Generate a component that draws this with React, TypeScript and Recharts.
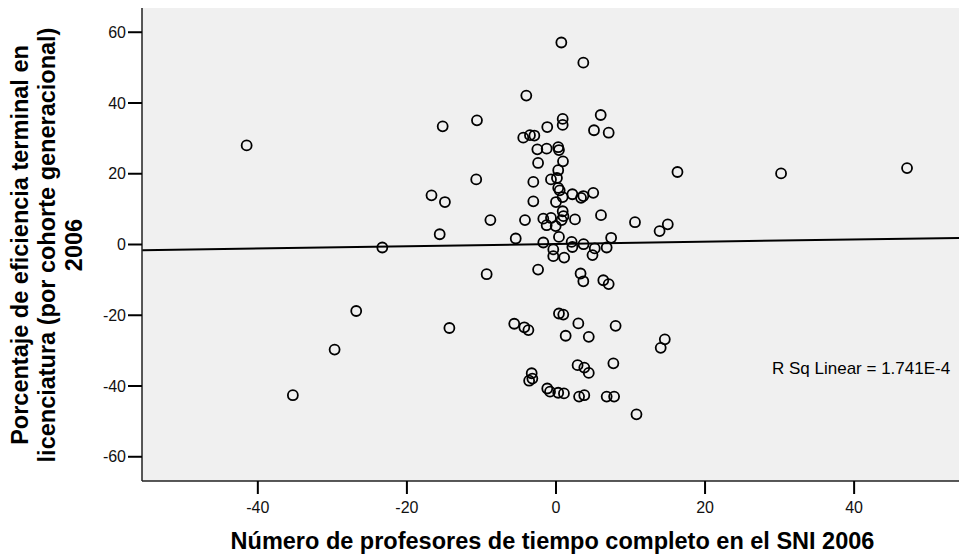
import { ScatterChart, Scatter, XAxis, YAxis, CartesianGrid, ReferenceLine, Customized } from 'recharts'

// Número de profesores de tiempo completo en el SNI 2006 (x) vs eficiencia terminal (y)
const profesores = [
  -41.5, -35.3, -29.7, -26.8, -23.3, -16.7, -14.9, -15.2, -15.6, -14.3, -10.6, -10.7, -8.8, -9.3, -5.6, -5.4,
  16.3, 30.2, 47.1, 10.6, 13.9, 15.0, 14.05, 14.6, 10.8,
  0.72, 3.67, -3.98, 6.0, 0.9, 0.9, -1.17, 5.1, 7.07, -4.39, -3.49, -2.9,
  -2.5, -1.25, 0.3, 0.4, -2.4, 0.94, 0.3, 0.13, -0.67, -3.04, 0.3, 0.5, 0.9, 0.0, -3.04, 2.2, 3.36, 3.67, 5.0,
  0.9, 1.0, 0.76, -1.7, -0.67, -1.25, -0.04, 2.55, -4.16, 6.04, 0.4, -1.7, 2.1, 2.2, 3.7, 7.4, 6.8, 5.2, 4.9,
  -0.36, -0.36, 1.1, -2.4, 3.3,
  3.67, 6.35, 7.07, 0.4, 0.98, 3.0, 8.0, -4.25, -3.7, 1.3, 4.4, 2.9, 3.8, 4.4, 7.7, -3.26, -3.17, -3.6,
  -1.17, -0.8, 0.3, 1.07, 3.1, 3.8, 6.8, 7.8,
]

const eficiencia = [
  28.0, -42.6, -29.7, -18.8, -0.85, 13.9, 12.0, 33.4, 2.9, -23.6, 35.1, 18.4, 6.9, -8.4, -22.4, 1.7,
  20.5, 20.1, 21.6, 6.3, 3.8, 5.7, -29.2, -26.8, -48.0,
  57.1, 51.4, 42.1, 36.6, 35.5, 33.8, 33.2, 32.3, 31.6, 30.2, 30.9, 30.8,
  26.9, 27.1, 27.5, 26.7, 23.05, 23.5, 21.0, 18.8, 18.4, 17.7, 16.0, 15.3, 13.4, 12.0, 12.2, 14.2, 13.2, 13.7, 14.6,
  9.4, 8.0, 6.9, 7.3, 7.5, 5.45, 5.2, 7.1, 6.9, 8.3, 2.15, 0.56, 0.73, -0.7, 0.08, 1.9, -0.85, -1.1, -3.0,
  -1.4, -3.3, -3.7, -7.1, -8.2,
  -10.4, -10.1, -11.2, -19.5, -19.8, -22.3, -23.0, -23.4, -24.2, -25.8, -26.1, -34.1, -34.8, -36.3, -33.6, -36.4, -37.9, -38.5,
  -40.7, -41.6, -41.9, -42.1, -43.0, -42.6, -43.0, -43.0,
]

const xTicks = [-40, -20, 0, 20, 40]
const yTicks = [-60, -40, -20, 0, 20, 40, 60]
const xDomain = [-55.54, 54.07]
const yDomain = [-66.85, 66.85]

// linear fit endpoints (R Sq Linear = 1.741E-4)
const fitLine = [
  { x: -55.54, y: -1.61 },
  { x: 54.07, y: 1.87 },
]

const points = profesores.map((x, i) => ({ x, y: eficiencia[i] }))

const FONT = 'Arial, "Liberation Sans", sans-serif'

const Ring = (props: any) => (
  <circle cx={props.cx} cy={props.cy} r={5} fill="none" stroke="#000" strokeWidth={1.8} />
)

const YTitle = () => {
  const lines = ['Porcentaje de eficiencia terminal en', 'licenciatura (por cohorte generacional)', '2006']
  const xs = [28, 55, 82]
  return (
    <g>
      {lines.map((t, i) => (
        <text
          key={i}
          x={xs[i]}
          y={245}
          transform={`rotate(-90, ${xs[i]}, 245)`}
          textAnchor="middle"
          fontFamily={FONT}
          fontWeight="bold"
          fontSize={23.5}
          fill="#000"
        >
          {t}
        </text>
      ))}
    </g>
  )
}

const Extras = () => (
  <g>
    <YTitle />
    <text x={552.5} y={549} textAnchor="middle" fontFamily={FONT} fontWeight="bold" fontSize={23.5} fill="#000">
      Número de profesores de tiempo completo en el SNI 2006
    </text>
    <text x={772} y={374} fontFamily={FONT} fontSize={17} fill="#000">
      R Sq Linear = 1.741E-4
    </text>
  </g>
)

export default function App() {
  return (
    <div style={{ position: 'absolute', left: 0, top: 0, width: 959, height: 558, background: '#fff' }}>
      <ScatterChart width={959} height={558} margin={{ top: 8, right: 0, bottom: 0, left: 0 }}>
        <CartesianGrid fill="#f0f0f0" horizontal={false} vertical={false} stroke="none" />
        <XAxis
          type="number"
          dataKey="x"
          domain={xDomain}
          ticks={xTicks}
          allowDataOverflow
          height={77}
          tickSize={13}
          tickMargin={8}
          axisLine={{ stroke: '#222', strokeWidth: 1.5 }}
          tickLine={{ stroke: '#000', strokeWidth: 2 }}
          tick={{ fill: '#111', fontSize: 16, fontFamily: FONT }}
        />
        <XAxis
          xAxisId="top"
          orientation="top"
          type="number"
          domain={xDomain}
          height={0}
          tick={false}
          tickLine={false}
          axisLine={{ stroke: '#777', strokeWidth: 1 }}
        />
        <YAxis
          type="number"
          dataKey="y"
          domain={yDomain}
          ticks={yTicks}
          allowDataOverflow
          width={142}
          tickSize={14}
          tickMargin={2}
          axisLine={{ stroke: '#222', strokeWidth: 1.5 }}
          tickLine={{ stroke: '#000', strokeWidth: 2 }}
          tick={{ fill: '#111', fontSize: 16, fontFamily: FONT }}
        />
        <ReferenceLine segment={fitLine} stroke="#000" strokeWidth={2} ifOverflow="hidden" />
        <Scatter data={points} shape={Ring} isAnimationActive={false} />
        <Customized component={Extras} />
      </ScatterChart>
    </div>
  )
}
